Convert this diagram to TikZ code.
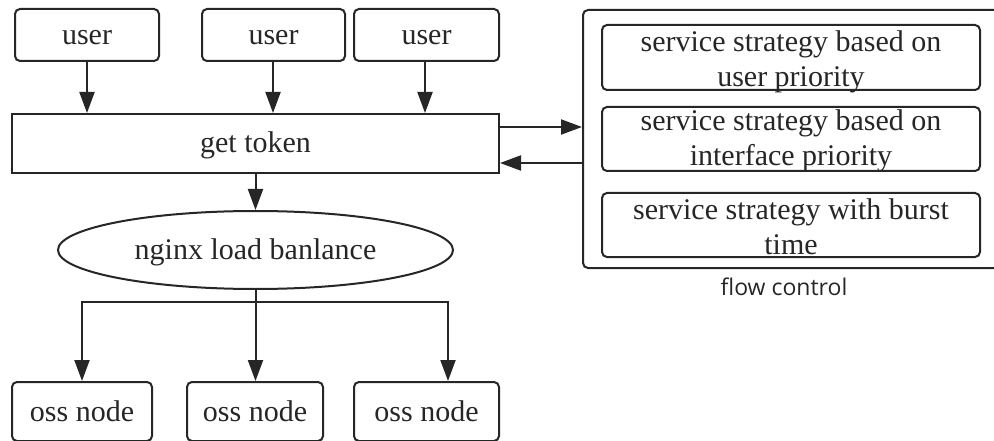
\documentclass[tikz,border=0pt]{standalone}
\usepackage{fontspec}
\setmainfont{Liberation Serif}
\newfontfamily\labelsans{Open Sans}
\usetikzlibrary{arrows.meta,shapes.geometric}
\definecolor{ink}{HTML}{262626}
\begin{document}
\begin{tikzpicture}[x=1pt,y=-1pt,
  every node/.style={text=ink},
  base/.style={draw=ink, line width=2pt, inner sep=0pt,
    font=\fontsize{30}{35}\selectfont, text height=22pt, text depth=3pt},
  rbox/.style={base, rectangle, rounded corners=5pt},
  sbox/.style={base, rectangle},
  oval/.style={base, ellipse},
  frame/.style={draw=ink, line width=2pt, rectangle, rounded corners=5pt, inner sep=0pt},
  txt/.style={inner sep=0pt, align=center, font=\fontsize{30}{35}\selectfont},
  arr/.style={draw=ink, line width=2pt, -{Triangle[length=21pt,width=15pt]}},
  link/.style={draw=ink, line width=2pt}]
\useasboundingbox (0,0) rectangle (994,441);
\clip (0,0) rectangle (994,441);

% clients
\node[rbox, minimum width=144pt, minimum height=52pt] (u1) at (87,35) {user};
\node[rbox, minimum width=143pt, minimum height=52pt] (u2) at (273.5,35) {user};
\node[rbox, minimum width=145pt, minimum height=52pt] (u3) at (426.5,35) {user};

% token gate
\node[sbox, minimum width=487pt, minimum height=59pt] (tok) at (255.5,143.5) {get token};

% load balancer
\node[oval, minimum width=395pt, minimum height=78pt] (lb) at (255.5,250) {nginx load banlance};

% storage nodes
\node[rbox, minimum width=140pt, minimum height=59pt] (o1) at (82,411.5) {oss node};
\node[rbox, minimum width=136pt, minimum height=59pt] (o2) at (255,411.5) {oss node};
\node[rbox, minimum width=145pt, minimum height=59pt] (o3) at (426.5,411.5) {oss node};

% flow control group
\node[frame, minimum width=421pt, minimum height=258pt] (fc) at (793.5,139) {};
\node[frame, minimum width=378pt, minimum height=65pt] (s1) at (791,57.5) {};
\node[frame, minimum width=378pt, minimum height=64pt] (s2) at (791,139) {};
\node[frame, minimum width=378pt, minimum height=64pt] (s3) at (791,225) {};
\node[txt, yshift=-4pt] (s1t) at (s1) {service strategy based on\\user priority};
\node[txt, yshift=-1.5pt] (s2t) at (s2) {service strategy based on\\interface priority};
\node[txt, yshift=-2pt] (s3t) at (s3) {service strategy with burst\\time};
\node[font=\labelsans\fontsize{23}{27}\selectfont, inner sep=0pt] (fcl) at (784,287) {flow control};

% requests into the gate
\draw[arr] (u1.south) -- (u1.south |- tok.north);
\draw[arr] ([xshift=-0.5pt]u2.south) -- ([xshift=-0.5pt]u2.south |- tok.north);
\draw[arr] ([xshift=-1.5pt]u3.south) -- ([xshift=-1.5pt]u3.south |- tok.north);

% exchange with flow control
\draw[arr] ([yshift=16.5pt]tok.east) -- ([yshift=16.5pt]tok.east -| fc.west);
\draw[arr] ([yshift=-19.5pt]tok.east -| fc.west) -- ([yshift=-19.5pt]tok.east);

% gate to balancer
\draw[arr] (tok.south -| lb.north) -- (lb.north);

% balancer fan-out
\coordinate (br) at (255.5,302);
\draw[link] (lb.south) -- (br);
\draw[arr] (br) -| (o1.north);
\draw[arr] (br) -- (o2.north -| br);
\draw[arr] (br) -| ([xshift=21.5pt]o3.north);
\end{tikzpicture}
\end{document}
